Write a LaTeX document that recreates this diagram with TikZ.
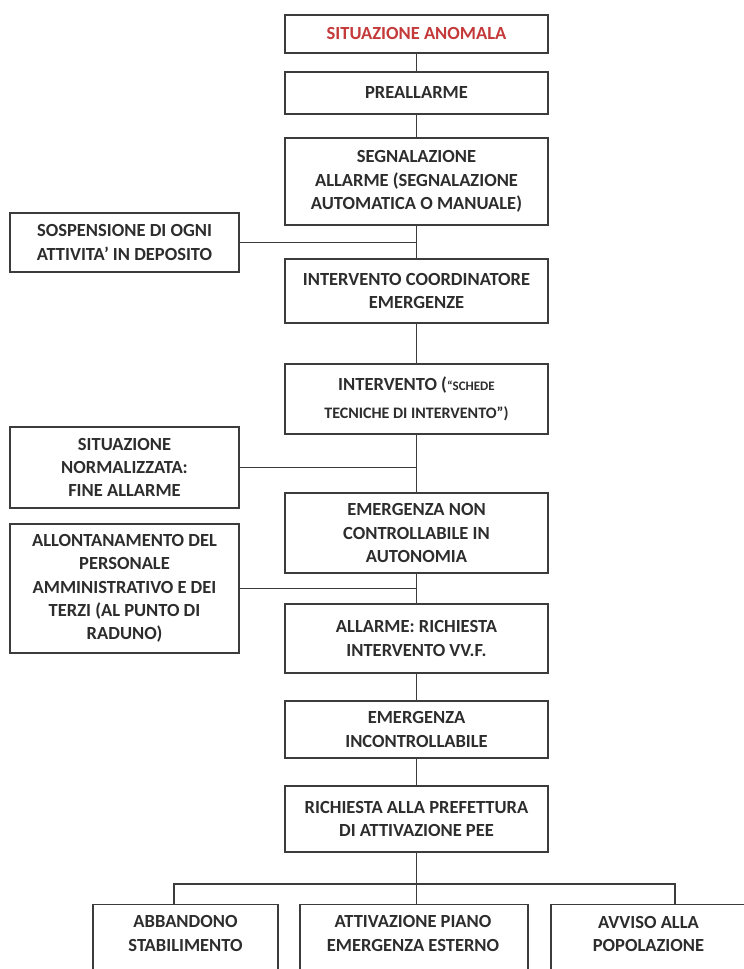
\documentclass[tikz,border=0pt]{standalone}
\usepackage{fontspec}
\setmainfont{Carlito}
\definecolor{anom}{RGB}{196,58,58}
\definecolor{ink}{RGB}{45,45,45}
\definecolor{edge}{RGB}{60,60,60}
\begin{document}
\begin{tikzpicture}[x=1pt,y=-1pt,
  box/.style={draw=edge,line width=1.2pt,fill=white,inner sep=0pt,align=center,text=ink,
    font=\bfseries\fontsize{18.5}{23.3}\selectfont},
  mainbox/.style={box,minimum width=263pt},
  sidebox/.style={box,minimum width=229pt},
  openbox/.style={draw=edge,line width=1.2pt,anchor=north,inner sep=0pt,minimum height=100pt},
  txt/.style={inner sep=0pt,align=center,text=ink,font=\bfseries\fontsize{18.5}{23.3}\selectfont},
  link/.style={draw=edge,line width=1.1pt}]
\useasboundingbox (0,0) rectangle (744,969);
\clip (0,0) rectangle (744,969);
\fill[white] (0,0) rectangle (744,969);

% main column
\node[mainbox,minimum height=38pt,text=anom] (s1) at (416.5,34) {SITUAZIONE ANOMALA};
\node[mainbox,minimum height=42pt] (s2) at (416.5,93) {PREALLARME};
\node[mainbox,minimum height=87pt] (s3) at (416.5,181.5) {SEGNALAZIONE\\ALLARME (SEGNALAZIONE\\AUTOMATICA O MANUALE)};
\node[mainbox,minimum height=64pt] (s4) at (416.5,291) {INTERVENTO COORDINATORE\\EMERGENZE};
\node[mainbox,minimum height=70pt] (s5) at (416.5,399) {INTERVENTO ({\fontsize{13}{15}\selectfont “SCHEDE}\\[5pt]{\fontsize{16}{20}\selectfont TECNICHE DI INTERVENTO”)}};
\node[mainbox,minimum height=80pt] (s6) at (416.5,533) {EMERGENZA NON\\CONTROLLABILE IN\\AUTONOMIA};
\node[mainbox,minimum height=69pt] (s7) at (416.5,638.5) {ALLARME: RICHIESTA\\INTERVENTO VV.F.};
\node[mainbox,minimum height=57pt] (s8) at (416.5,729.5) {EMERGENZA\\INCONTROLLABILE};
\node[mainbox,minimum height=66pt] (s9) at (416.5,819) {RICHIESTA ALLA PREFETTURA\\DI ATTIVAZIONE PEE};

% side boxes
\node[sidebox,minimum height=59pt] (l1) at (124.5,242.5) {SOSPENSIONE DI OGNI\\ATTIVITA’ IN DEPOSITO};
\node[sidebox,minimum height=81pt] (l2) at (124.5,467.5) {SITUAZIONE\\NORMALIZZATA:\\FINE ALLARME};
\node[sidebox,minimum height=129pt] (l3) at (124.5,588.5) {ALLONTANAMENTO DEL\\PERSONALE\\AMMINISTRATIVO E DEI\\TERZI (AL PUNTO DI\\RADUNO)};

% bottom boxes (cut by the page edge)
\node[openbox,minimum width=185pt] (b1) at (185.5,904) {};
\node[openbox,minimum width=228pt] (b2) at (414,904) {};
\node[openbox,minimum width=195pt] (b3) at (648.5,904) {};
\node[txt] (t1) at (185.5,933.5) {ABBANDONO\\STABILIMENTO};
\node[txt] (t2) at (413,933.5) {ATTIVAZIONE PIANO\\EMERGENZA ESTERNO};
\node[txt] (t3) at (648.5,934) {AVVISO ALLA\\POPOLAZIONE};

% connectors
\draw[link] (s1.south) -- (s2.north);
\draw[link] (s2.south) -- (s3.north);
\draw[link] (s3.south) -- (s4.north);
\draw[link] (s4.south) -- (s5.north);
\draw[link] (s5.south) -- (s6.north);
\draw[link] (s6.south) -- (s7.north);
\draw[link] (s7.south) -- (s8.north);
\draw[link] (s8.south) -- (s9.north);
\draw[link] (l1.east) -- (l1.east -| s3.south);
\draw[link] (l2.east) -- (l2.east -| s5.south);
\draw[link] (l3.east) -- (l3.east -| s6.south);

\coordinate (br1) at (174,884);
\coordinate (br3) at (675,884);
\draw[link] (s9.south) -- (s9.south |- b2.north);
\draw[link] (br1 |- b1.north) -- (br1) -- (br3) -- (br3 |- b3.north);
\end{tikzpicture}
\end{document}
